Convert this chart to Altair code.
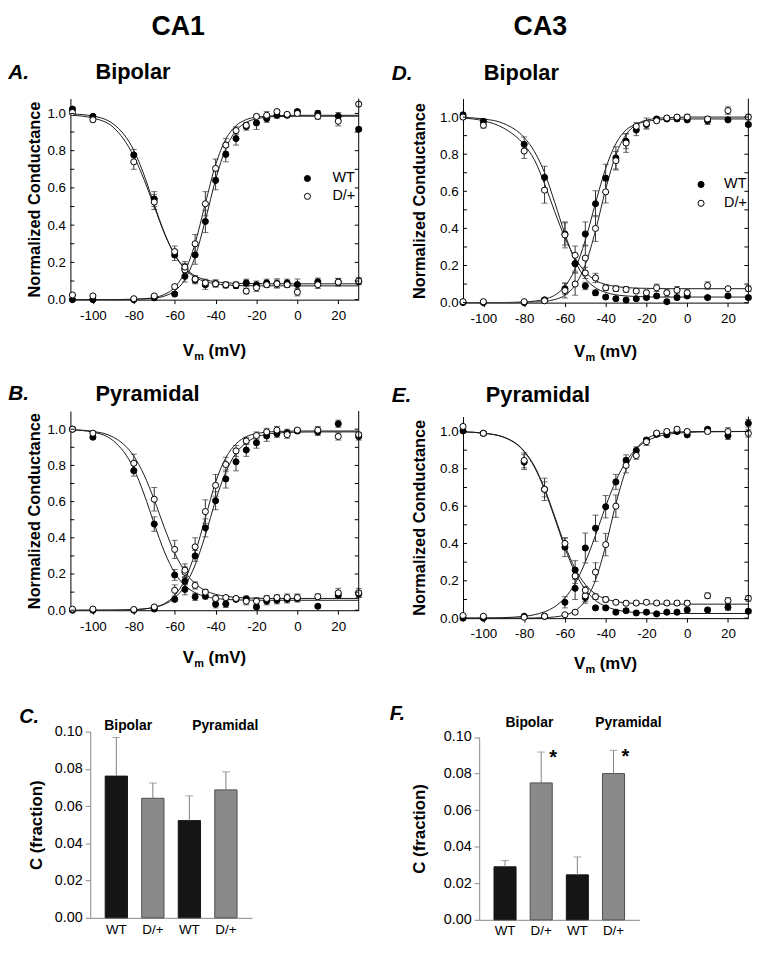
import altair as alt
import pandas as pd

FONT = "Liberation Sans"

# ---------------- data ----------------
V = [-110, -100, -80, -70, -60, -55, -50, -45, -40, -35, -30, -25, -20, -15, -10, -5, 0, 10, 20, 30]
CV = [-110, -100, -90, -80, -75, -70, -65, -60, -55, -50, -45, -40, -35, -30, -25, -20, -15, -10, -5, 0, 10, 20, 30]
X_TICKS = [-100, -80, -60, -40, -20, 0, 20]
Y_LABELS = [0.0, 0.2, 0.4, 0.6, 0.8, 1.0]
Y_TICKS = [0.0, 0.1, 0.2, 0.3, 0.4, 0.5, 0.6, 0.7, 0.8, 0.9, 1.0]
GENOTYPES = ["WT", "D/+"]
BAR_KEYS = ["Bipolar WT", "Bipolar D/+", "Pyramidal WT", "Pyramidal D/+"]
BAR_GENO = ["WT", "D/+", "WT", "D/+"]
BAR_TICKS = [0.0, 0.02, 0.04, 0.06, 0.08, 0.10]

# Panel A (CA1 bipolar)
A_act_wt = [0.0, 0.0, 0.0, 0.01, 0.03, 0.125, 0.24, 0.42, 0.64, 0.78, 0.865, 0.93, 0.949, 0.972, 0.99, 0.99, 1.01, 1.0, 0.985, 0.915]
A_act_dp = [0.025, 0.02, 0.005, 0.02, 0.07, 0.16, 0.30, 0.515, 0.705, 0.83, 0.908, 0.936, 0.984, 0.99, 1.01, 0.995, 1.0, 0.984, 0.958, 1.05]
A_ina_wt = [1.023, 0.984, 0.777, 0.54, 0.24, 0.165, 0.105, 0.08, 0.087, 0.078, 0.075, 0.09, 0.08, 0.09, 0.087, 0.09, 0.081, 0.096, 0.094, 0.098]
A_ina_dp = [1.005, 0.966, 0.74, 0.524, 0.258, 0.175, 0.11, 0.09, 0.085, 0.08, 0.08, 0.046, 0.064, 0.08, 0.085, 0.08, 0.04, 0.08, 0.094, 0.1]
A_act_wt_e = [0.005, 0.005, 0.005, 0.008, 0.01, 0.03, 0.05, 0.06, 0.05, 0.04, 0.035, 0.02, 0.035, 0.02, 0.015, 0.01, 0.01, 0.015, 0.02, 0.01]
A_act_dp_e = [0.005, 0.005, 0.005, 0.005, 0.01, 0.03, 0.05, 0.065, 0.05, 0.035, 0.02, 0.015, 0.01, 0.02, 0.01, 0.01, 0.01, 0.015, 0.025, 0.01]
A_ina_wt_e = [0.01, 0.01, 0.03, 0.04, 0.03, 0.03, 0.02, 0.025, 0.02, 0.015, 0.015, 0.02, 0.02, 0.02, 0.025, 0.02, 0.03, 0.02, 0.02, 0.015]
A_ina_dp_e = [0.01, 0.01, 0.04, 0.04, 0.03, 0.03, 0.02, 0.02, 0.015, 0.015, 0.015, 0.015, 0.02, 0.015, 0.02, 0.015, 0.02, 0.02, 0.02, 0.02]
A_fit_act_wt = [0, 0, 0.0002, 0.0013, 0.003, 0.008, 0.019, 0.047, 0.108, 0.231, 0.426, 0.644, 0.812, 0.907, 0.952, 0.971, 0.98, 0.983, 0.984, 0.985, 0.985, 0.985, 0.985]
A_fit_act_dp = [0, 0, 0.0003, 0.002, 0.005, 0.011, 0.028, 0.066, 0.150, 0.303, 0.517, 0.724, 0.862, 0.934, 0.967, 0.98, 0.986, 0.988, 0.989, 0.99, 0.99, 0.99, 0.99]
A_fit_ina_wt = [0.997, 0.986, 0.943, 0.802, 0.670, 0.510, 0.358, 0.242, 0.170, 0.128, 0.107, 0.096, 0.090, 0.088, 0.086, 0.086, 0.085, 0.085, 0.085, 0.085, 0.085, 0.085, 0.085]
A_fit_ina_dp = [0.99, 0.975, 0.925, 0.77, 0.645, 0.50, 0.355, 0.24, 0.165, 0.12, 0.097, 0.085, 0.079, 0.076, 0.075, 0.074, 0.074, 0.074, 0.074, 0.074, 0.074, 0.074, 0.074]

# Panel B (CA1 pyramidal)
B_act_wt = [0.0, 0.0, 0.0, 0.007, 0.06, 0.16, 0.30, 0.455, 0.605, 0.725, 0.82, 0.885, 0.925, 0.963, 0.975, 0.98, 0.99, 0.985, 1.03, 0.96]
B_act_dp = [0.006, 0.006, 0.004, 0.018, 0.11, 0.21, 0.35, 0.545, 0.69, 0.805, 0.88, 0.935, 0.965, 0.985, 0.995, 0.97, 0.995, 0.995, 0.96, 0.97]
B_ina_wt = [1.0, 0.956, 0.771, 0.476, 0.195, 0.115, 0.074, 0.077, 0.033, 0.035, 0.06, 0.063, 0.018, 0.05, 0.055, 0.06, 0.065, 0.022, 0.083, 0.09]
B_ina_dp = [1.0, 0.978, 0.812, 0.613, 0.336, 0.221, 0.137, 0.10, 0.065, 0.07, 0.065, 0.05, 0.05, 0.065, 0.07, 0.07, 0.07, 0.075, 0.096, 0.096]
B_act_wt_e = [0.005, 0.005, 0.005, 0.005, 0.01, 0.02, 0.03, 0.05, 0.05, 0.05, 0.05, 0.035, 0.03, 0.03, 0.02, 0.02, 0.01, 0.02, 0.02, 0.02]
B_act_dp_e = [0.005, 0.005, 0.005, 0.005, 0.03, 0.03, 0.05, 0.065, 0.06, 0.04, 0.03, 0.02, 0.02, 0.02, 0.02, 0.02, 0.01, 0.02, 0.02, 0.01]
B_ina_wt_e = [0.01, 0.01, 0.03, 0.04, 0.03, 0.03, 0.02, 0.015, 0.02, 0.02, 0.01, 0.015, 0.01, 0.02, 0.02, 0.02, 0.02, 0.01, 0.015, 0.02]
B_ina_dp_e = [0.01, 0.01, 0.05, 0.065, 0.05, 0.035, 0.02, 0.015, 0.015, 0.01, 0.01, 0.02, 0.02, 0.015, 0.015, 0.02, 0.02, 0.015, 0.025, 0.025]
B_fit_act_wt = [0, 0.0002, 0.0007, 0.0034, 0.0072, 0.0154, 0.033, 0.068, 0.135, 0.25, 0.415, 0.607, 0.763, 0.868, 0.925, 0.957, 0.972, 0.979, 0.982, 0.984, 0.985, 0.985, 0.985]
B_fit_act_dp = [0, 0.0001, 0.0006, 0.0032, 0.0072, 0.0166, 0.037, 0.081, 0.169, 0.317, 0.51, 0.707, 0.842, 0.919, 0.959, 0.976, 0.984, 0.987, 0.989, 0.99, 0.99, 0.99, 0.99]
B_fit_ina_wt = [0.996, 0.984, 0.936, 0.782, 0.642, 0.477, 0.322, 0.207, 0.136, 0.097, 0.076, 0.065, 0.06, 0.057, 0.056, 0.055, 0.055, 0.055, 0.055, 0.055, 0.055, 0.055, 0.055]
B_fit_ina_dp = [0.997, 0.988, 0.956, 0.851, 0.748, 0.61, 0.455, 0.316, 0.214, 0.147, 0.109, 0.088, 0.077, 0.071, 0.068, 0.066, 0.065, 0.065, 0.065, 0.065, 0.065, 0.065, 0.065]

# Panel D (CA3 bipolar)
D_act_wt = [0.0, 0.0, 0.0, 0.015, 0.075, 0.21, 0.37, 0.533, 0.671, 0.78, 0.87, 0.93, 0.96, 0.99, 0.99, 0.99, 0.985, 0.98, 0.985, 0.96]
D_act_dp = [0.005, 0.005, 0.005, 0.01, 0.065, 0.10, 0.24, 0.40, 0.597, 0.765, 0.86, 0.95, 0.965, 0.98, 0.995, 1.0, 1.0, 0.99, 1.035, 1.0]
D_ina_wt = [1.012, 0.977, 0.853, 0.675, 0.37, 0.21, 0.09, 0.053, 0.03, 0.021, 0.014, 0.021, 0.027, 0.036, 0.005, 0.027, 0.036, 0.027, 0.036, 0.027]
D_ina_dp = [1.0, 0.956, 0.817, 0.606, 0.365, 0.255, 0.16, 0.133, 0.08, 0.075, 0.071, 0.062, 0.053, 0.08, 0.053, 0.067, 0.053, 0.092, 0.075, 0.075]
D_act_wt_e = [0.005, 0.005, 0.005, 0.01, 0.03, 0.04, 0.065, 0.07, 0.075, 0.06, 0.04, 0.03, 0.02, 0.01, 0.01, 0.01, 0.01, 0.02, 0.01, 0.01]
D_act_dp_e = [0.005, 0.005, 0.005, 0.01, 0.04, 0.06, 0.07, 0.07, 0.06, 0.05, 0.05, 0.02, 0.03, 0.01, 0.01, 0.01, 0.015, 0.01, 0.02, 0.015]
D_ina_wt_e = [0.01, 0.01, 0.04, 0.06, 0.06, 0.05, 0.02, 0.015, 0.01, 0.01, 0.01, 0.01, 0.01, 0.01, 0.01, 0.01, 0.01, 0.01, 0.01, 0.01]
D_ina_dp_e = [0.01, 0.015, 0.04, 0.07, 0.07, 0.05, 0.03, 0.025, 0.015, 0.015, 0.015, 0.01, 0.015, 0.02, 0.02, 0.02, 0.02, 0.02, 0.01, 0.015]
D_fit_act_wt = [0, 0.0001, 0.0007, 0.0034, 0.0079, 0.018, 0.040, 0.088, 0.181, 0.336, 0.537, 0.724, 0.857, 0.931, 0.961, 0.977, 0.984, 0.988, 0.989, 0.99, 0.99, 0.99, 0.99]
D_fit_act_dp = [0, 0, 0.0002, 0.0011, 0.0027, 0.0067, 0.0165, 0.040, 0.094, 0.204, 0.388, 0.612, 0.796, 0.906, 0.960, 0.9835, 0.993, 0.997, 0.999, 1.0, 1.0, 1.0, 1.0]
D_fit_ina_wt = [0.998, 0.99, 0.965, 0.89, 0.815, 0.70, 0.54, 0.37, 0.225, 0.13, 0.08, 0.055, 0.042, 0.036, 0.033, 0.031, 0.03, 0.03, 0.03, 0.03, 0.03, 0.03, 0.03]
D_fit_ina_dp = [0.995, 0.98, 0.94, 0.85, 0.77, 0.64, 0.49, 0.35, 0.24, 0.165, 0.12, 0.098, 0.087, 0.081, 0.078, 0.077, 0.076, 0.075, 0.075, 0.075, 0.075, 0.075, 0.075]

# Panel E (CA3 pyramidal)
E_act_wt = [0.0, 0.0, 0.01, 0.01, 0.085, 0.16, 0.376, 0.482, 0.597, 0.73, 0.845, 0.898, 0.954, 0.985, 0.982, 1.0, 0.982, 1.012, 0.977, 1.044]
E_act_dp = [0.014, 0.01, 0.005, 0.01, 0.018, 0.032, 0.12, 0.247, 0.394, 0.60, 0.818, 0.871, 0.945, 0.991, 1.0, 1.012, 1.0, 1.0, 1.0, 0.99]
E_ina_wt = [1.003, 0.99, 0.836, 0.69, 0.38, 0.258, 0.11, 0.055, 0.055, 0.032, 0.04, 0.028, 0.032, 0.023, 0.032, 0.032, 0.044, 0.044, 0.058, 0.037]
E_ina_dp = [1.027, 0.99, 0.845, 0.69, 0.40, 0.226, 0.15, 0.115, 0.10, 0.085, 0.08, 0.081, 0.085, 0.081, 0.081, 0.081, 0.08, 0.12, 0.094, 0.106]
E_act_wt_e = [0.005, 0.005, 0.005, 0.005, 0.03, 0.06, 0.08, 0.07, 0.06, 0.04, 0.03, 0.02, 0.01, 0.01, 0.01, 0.01, 0.01, 0.01, 0.02, 0.02]
E_act_dp_e = [0.005, 0.005, 0.005, 0.005, 0.005, 0.01, 0.03, 0.05, 0.06, 0.06, 0.04, 0.02, 0.02, 0.01, 0.01, 0.01, 0.01, 0.01, 0.02, 0.02]
E_ina_wt_e = [0.01, 0.01, 0.04, 0.04, 0.05, 0.05, 0.03, 0.01, 0.01, 0.01, 0.01, 0.01, 0.01, 0.01, 0.01, 0.01, 0.01, 0.01, 0.015, 0.01]
E_ina_dp_e = [0.01, 0.01, 0.04, 0.06, 0.03, 0.04, 0.02, 0.015, 0.015, 0.01, 0.01, 0.01, 0.01, 0.01, 0.01, 0.01, 0.015, 0.015, 0.015, 0.015]
E_fit_act_wt = [0.0002, 0.0008, 0.0029, 0.010, 0.0184, 0.034, 0.0615, 0.109, 0.186, 0.30, 0.444, 0.599, 0.736, 0.839, 0.907, 0.948, 0.971, 0.984, 0.991, 0.995, 0.998, 0.999, 1.0]
E_fit_act_dp = [0, 0, 0.0001, 0.0004, 0.0011, 0.0027, 0.0067, 0.0165, 0.040, 0.094, 0.204, 0.388, 0.612, 0.796, 0.906, 0.960, 0.984, 0.993, 0.997, 0.999, 1.0, 1.0, 1.0]
E_fit_ina_wt = [0.998, 0.991, 0.969, 0.892, 0.81, 0.688, 0.535, 0.377, 0.245, 0.153, 0.095, 0.063, 0.045, 0.035, 0.03, 0.028, 0.026, 0.025, 0.025, 0.025, 0.025, 0.025, 0.025]
E_fit_ina_dp = [0.998, 0.991, 0.97, 0.895, 0.815, 0.695, 0.545, 0.39, 0.265, 0.18, 0.13, 0.103, 0.089, 0.082, 0.078, 0.077, 0.076, 0.075, 0.075, 0.075, 0.075, 0.075, 0.075]

# Panels C and F (persistent fraction C)
C_MEAN = [0.0761, 0.0642, 0.0522, 0.0687]
C_SEM = [0.0207, 0.0082, 0.0133, 0.0097]
C_SIG = ["", "", "", ""]
F_MEAN = [0.029, 0.0749, 0.0246, 0.080]
F_SEM = [0.0034, 0.0169, 0.0098, 0.0127]
F_SIG = ["", "*", "", "*"]

NO_FRAME = alt.ViewBackground(stroke="transparent", strokeWidth=0)


# ---------------- helpers ----------------
def point_table(series):
    rows = []
    for g, kind, vals, errs in series:
        for v, y, e in zip(V, vals, errs):
            rows.append({"v": v, "g": g, "kind": kind, "y": y, "lo": y - e, "hi": y + e})
    return pd.DataFrame(rows)


def fit_table(series):
    rows = []
    for name, vals in series:
        for v, y in zip(CV, vals):
            rows.append({"v": v, "s": name, "y": y})
    return pd.DataFrame(rows)


def txt(text, x, y, size, weight="bold", style="normal", align="left"):
    return alt.Chart(pd.DataFrame({"t": [text]})).mark_text(
        align=align, baseline="alphabetic", font=FONT, fontSize=size,
        fontWeight=weight, fontStyle=style, color="black"
    ).encode(text="t:N", x=alt.value(x), y=alt.value(y))


def vm_title(cx, y):
    L = cx - 32
    return [txt("V", L, y, 17), txt("m", L + 11.5, y + 4, 11), txt("(mV)", L + 26, y, 17)]


def boltz_panel(pts, fits, xdom, w, h, ydom, yrng, title_x, legend, texts):
    xenc = alt.X("v:Q", scale=alt.Scale(domain=xdom, nice=False, zero=False),
                 axis=alt.Axis(values=X_TICKS, title=None, grid=False, tickSize=4,
                               labelExpr="datum.value < 0 ? '-' + abs(datum.value) : '' + datum.value",
                               labelPadding=5, labelFontSize=13.5, labelFont=FONT,
                               labelColor="black", domainColor="black", tickColor="black"))
    ysc = alt.Scale(domain=ydom, nice=False, zero=False, range=yrng)
    yaxis = alt.Axis(values=Y_LABELS, format=".1f", ticks=False, grid=False,
                     labelPadding=5, labelFontSize=13.5, labelFont=FONT, labelColor="black",
                     domainColor="black",
                     title="Normalized Conductance", titleFont=FONT, titleFontSize=16.5,
                     titleFontWeight="bold", titleColor="black", titleAngle=270,
                     titleX=title_x, titleY=(yrng[0] + yrng[1]) / 2,
                     titleBaseline="middle", titleAlign="center")

    def Y(f):
        return alt.Y(f + ":Q", scale=ysc, axis=yaxis)

    curves = alt.Chart(fits).mark_line(color="#1a1a1a", strokeWidth=1, interpolate="monotone",
                                       clip=True).encode(x=xenc, y=Y("y"), detail="s:N")
    ebar = alt.Chart(pts).mark_rule(color="#333333", strokeWidth=1).encode(x=xenc, y=Y("lo"), y2="hi:Q")
    cap_lo = alt.Chart(pts).mark_tick(orient="horizontal", size=6, thickness=1,
                                      color="#333333").encode(x=xenc, y=Y("lo"))
    cap_hi = alt.Chart(pts).mark_tick(orient="horizontal", size=6, thickness=1,
                                      color="#333333").encode(x=xenc, y=Y("hi"))
    dots = alt.Chart(pts).mark_point(shape="circle", filled=True, size=38, stroke="black",
                                     strokeWidth=1, opacity=1).encode(
        x=xenc, y=Y("y"),
        fill=alt.Fill("g:N", scale=alt.Scale(domain=GENOTYPES, range=["black", "white"]),
                      legend=legend))
    tdf = pd.DataFrame({"t": Y_TICKS})
    tl = alt.Chart(tdf).mark_rule(color="black", strokeWidth=1).encode(
        y=Y("t"), x=alt.value(0), x2=alt.value(4))
    tr = alt.Chart(tdf).mark_rule(color="black", strokeWidth=1).encode(
        y=Y("t"), x=alt.value(w - 4), x2=alt.value(w))
    raxis = alt.Chart(tdf.head(1)).mark_rule(color="black", strokeWidth=1).encode(
        x=alt.value(w), y=alt.value(yrng[1]), y2=alt.value(yrng[0]))
    return alt.layer(curves, ebar, cap_lo, cap_hi, dots, tl, tr, raxis, *texts).properties(
        width=w, height=h, view=NO_FRAME)


def bar_panel(means, sems, sig, w, h, yrng, xrng, offset, title_x, lab_pad, texts):
    df = pd.DataFrame({"key": BAR_KEYS, "g": BAR_GENO, "v": means,
                       "hi": [m + s for m, s in zip(means, sems)], "sig": sig})
    xenc = alt.X("key:N", sort=BAR_KEYS,
                 scale=alt.Scale(domain=BAR_KEYS, range=xrng, paddingInner=0.39, paddingOuter=0.41),
                 axis=alt.Axis(title=None, labelExpr="split(datum.label, ' ')[1]", ticks=False,
                               labelAngle=0, labelPadding=lab_pad, labelFontSize=13.5, labelFont=FONT,
                               labelColor="black", domainColor="#888888", grid=False))
    ysc = alt.Scale(domain=[0, 0.1], nice=False, zero=False, range=yrng)
    yaxis = alt.Axis(values=BAR_TICKS, format=".2f", offset=offset, tickSize=5,
                     tickColor="#888888", domainColor="#888888", grid=False,
                     labelFontSize=14.5, labelPadding=3, labelFont=FONT, labelColor="black",
                     title="C (fraction)", titleFont=FONT, titleFontSize=17, titleFontWeight="bold",
                     titleColor="black", titleAngle=270, titleX=title_x,
                     titleY=(yrng[0] + yrng[1]) / 2, titleBaseline="middle", titleAlign="center")
    bars = alt.Chart(df).mark_bar(strokeWidth=1).encode(
        x=xenc, y=alt.Y("v:Q", scale=ysc, axis=yaxis),
        fill=alt.Fill("g:N", scale=alt.Scale(domain=GENOTYPES, range=["#151515", "#8a8a8a"]), legend=None),
        stroke=alt.Stroke("g:N", scale=alt.Scale(domain=GENOTYPES, range=["#151515", "#4d4d4d"]), legend=None))
    err = alt.Chart(df).mark_rule(color="#808080", strokeWidth=1).encode(
        x=xenc, y=alt.Y("v:Q", scale=ysc, axis=yaxis), y2="hi:Q")
    cap = alt.Chart(df).mark_tick(orient="horizontal", size=8, thickness=1, color="#808080").encode(
        x=xenc, y=alt.Y("hi:Q", scale=ysc, axis=yaxis))
    layers = [bars, err, cap]
    if any(sig):
        star = alt.Chart(df).mark_text(align="center", baseline="alphabetic", dx=12, dy=12.5,
                                       fontSize=20, fontWeight="bold", font=FONT, color="black").encode(
            x=xenc, y=alt.Y("hi:Q", scale=ysc, axis=yaxis), text="sig:N")
        layers.append(star)
    return alt.layer(*layers, *texts).properties(width=w, height=h, view=NO_FRAME)


def legend_at(x, y, offset, rowpad):
    return alt.Legend(orient="none", legendX=x, legendY=y, title=None, symbolType="circle",
                      symbolSize=38, symbolStrokeColor="black", symbolStrokeWidth=1,
                      labelFontSize=14.5, labelFont=FONT, labelColor="black",
                      labelOffset=offset, rowPadding=rowpad, padding=0, direction="vertical")


def series(aw, ad, iw, idp, eaw, ead, eiw, eid):
    return point_table([("WT", "act", aw, eaw), ("WT", "ina", iw, eiw),
                        ("D/+", "act", ad, ead), ("D/+", "ina", idp, eid)])


def fits(aw, ad, iw, idp):
    return fit_table([("act_wt", aw), ("act_dp", ad), ("ina_wt", iw), ("ina_dp", idp)])


# ---------------- panels ----------------
A = boltz_panel(
    series(A_act_wt, A_act_dp, A_ina_wt, A_ina_dp, A_act_wt_e, A_act_dp_e, A_ina_wt_e, A_ina_dp_e),
    fits(A_fit_act_wt, A_fit_act_dp, A_fit_ina_wt, A_fit_ina_dp),
    [-111, 30], 291, 203, [0, 1.08], [203, 0], -36.7, legend_at(232, 73.5, 18, 3),
    [txt("CA1", 108.8, -64.5, 27, align="center"), txt("A.", -62.7, -19.5, 21, style="italic"),
     txt("Bipolar", 25.3, -19.5, 22)] + vm_title(145.5, 259.5))

D = boltz_panel(
    series(D_act_wt, D_act_dp, D_ina_wt, D_ina_dp, D_act_wt_e, D_act_dp_e, D_ina_wt_e, D_ina_dp_e),
    fits(D_fit_act_wt, D_fit_act_dp, D_fit_ina_wt, D_fit_ina_dp),
    [-110, 30], 288, 206, [0, 1.1], [206, 0], -43.7, legend_at(233, 79.5, 16, 4),
    [txt("CA3", 78, -64.5, 27, align="center"), txt("D.", -72, -18.5, 21, style="italic"),
     txt("Bipolar", 21, -18.5, 22)] + vm_title(144, 260.5))

B = boltz_panel(
    series(B_act_wt, B_act_dp, B_ina_wt, B_ina_dp, B_act_wt_e, B_act_dp_e, B_ina_wt_e, B_ina_dp_e),
    fits(B_fit_act_wt, B_fit_act_dp, B_fit_ina_wt, B_fit_ina_dp),
    [-111, 30], 291, 201, [0, 1.1], [201, 0], -36.7, None,
    [txt("B.", -62.7, -11, 21, style="italic"), txt("Pyramidal", 25.3, -10.3, 22)] + vm_title(145.5, 254))

E = boltz_panel(
    series(E_act_wt, E_act_dp, E_ina_wt, E_ina_dp, E_act_wt_e, E_act_dp_e, E_ina_wt_e, E_ina_dp_e),
    fits(E_fit_act_wt, E_fit_act_dp, E_fit_ina_wt, E_fit_ina_dp),
    [-110, 30], 288, 209, [0, 1.08], [209, 5.5], -43.7, None,
    [txt("E.", -72, -9.3, 21, style="italic"), txt("Pyramidal", 23, -9.3, 22)] + vm_title(144, 260))

C = bar_panel(C_MEAN, C_SEM, C_SIG, 183.3, 193, [193, 5], [20, 183.3], -20, -53.7, 5,
              [txt("C.", -51.7, -3.5, 20, style="italic"),
               txt("Bipolar", 58.3, 3.5, 14, align="center"),
               txt("Pyramidal", 156.3, 3.5, 14, align="center")])

F = bar_panel(F_MEAN, F_SEM, F_SIG, 178, 195, [195, 10.5], [16.3, 178], -16.3, -60, 4,
              [txt("F.", -74, -6.5, 20, style="italic"),
               txt("Bipolar", 67, 0.5, 14, align="center"),
               txt("Pyramidal", 167, 0.5, 14, align="center")])

chart = alt.concat(
    A, D, B, E, C, F, columns=2, spacing={"row": 109.5, "column": 105.3},
    bounds="flush", align="each"
).resolve_scale(
    fill="independent", stroke="independent"
).resolve_legend(
    fill="independent", stroke="independent"
).configure_view(
    stroke="transparent", strokeWidth=0
).configure(
    font=FONT
).properties(
    padding=0, background="white"
)

chart.save("out.html", embed_options={"renderer": "svg", "actions": False})
